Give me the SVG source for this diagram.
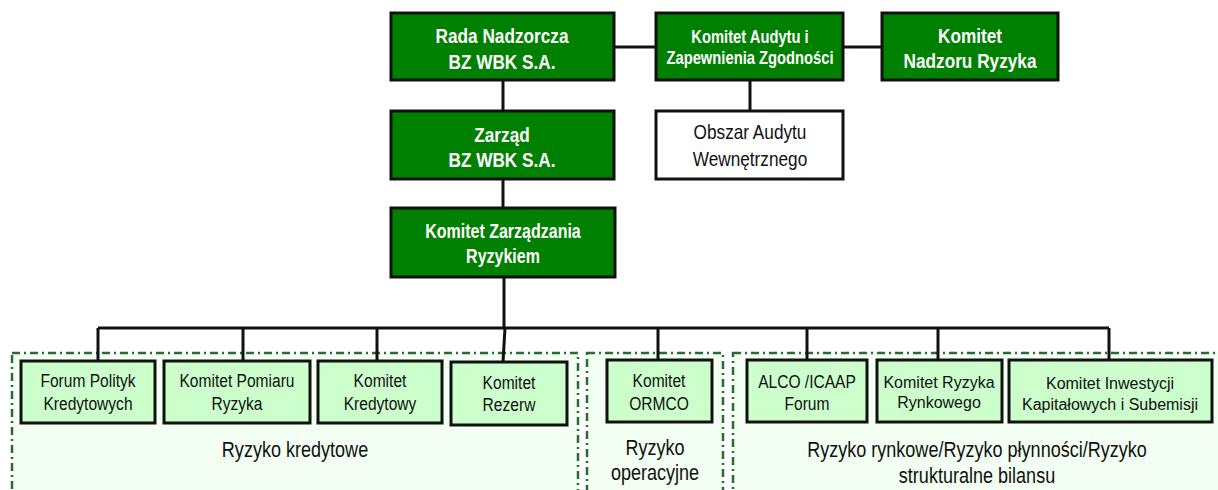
<svg xmlns="http://www.w3.org/2000/svg" width="1218" height="490" viewBox="0 0 1218 490">
<style>
.g rect{fill:#008000;stroke:#111;stroke-width:3}
.w rect{fill:#fff;stroke:#111;stroke-width:3}
.l rect{fill:#ccffcc;stroke:#111;stroke-width:3}
.reg{fill:#f2fff2;stroke:#2a6b35;stroke-width:2.5;stroke-dasharray:8 4 2 4}
text{font-family:"Liberation Sans",Arial,sans-serif;text-anchor:middle}
.g text{fill:#fff;font-weight:bold;font-size:21px}
.w text,.l text{fill:#111;font-size:19px}
.l text.a{font-size:16px}
.lab{fill:#111;font-size:22px}
.c{stroke:#111;stroke-width:3;fill:none}
</style>
<g id="regions">
<rect class="reg" x="12" y="353" width="566" height="150"/>
<rect class="reg" x="587" y="353" width="136" height="150"/>
<rect class="reg" x="733" y="353" width="500" height="150"/>
</g>
<g id="connectors">
<path class="c" d="M615 47H655M844 47H881M503 81V110M750 78V110M503 180V207M504 278V328M98 328H1109M98 328V360M243 328V360M377 328V360M505 328L503 362M658 328V360M807 328V360M938 328V360M1109 328V360"/>
</g>
<g id="rada" class="g"><rect x="391" y="13" width="223" height="67"/><text transform="translate(502 43) scale(0.82 1)">Rada Nadzorcza</text><text transform="translate(502 69) scale(0.82 1)">BZ WBK S.A.</text></g>
<g id="audyt" class="g"><rect x="656" y="13" width="187" height="67"/><text transform="translate(750 43) scale(0.82 1)" style="font-size:18px">Komitet Audytu i</text><text transform="translate(750 64) scale(0.82 1)" style="font-size:18px">Zapewnienia Zgodności</text></g>
<g id="nadzor" class="g"><rect x="882" y="13" width="176" height="67"/><text transform="translate(970 43) scale(0.82 1)">Komitet</text><text transform="translate(970 68) scale(0.82 1)">Nadzoru Ryzyka</text></g>
<g id="obszar" class="w"><rect x="656" y="111" width="187" height="68"/><text transform="translate(750 139) scale(0.82 1)" style="font-size:21px">Obszar Audytu</text><text transform="translate(750 166) scale(0.82 1)" style="font-size:21px">Wewnętrznego</text></g>
<g id="zarzad" class="g"><rect x="391" y="111" width="223" height="68"/><text transform="translate(502 142) scale(0.82 1)">Zarząd</text><text transform="translate(502 167) scale(0.82 1)">BZ WBK S.A.</text></g>
<g id="kzr" class="g"><rect x="391" y="208" width="224" height="69"/><text transform="translate(503 238) scale(0.82 1)" style="font-size:19.5px">Komitet Zarządzania</text><text transform="translate(503 263) scale(0.82 1)" style="font-size:19.5px">Ryzykiem</text></g>
<g id="forum" class="l"><rect x="21" y="361" width="134" height="62"/><text transform="translate(88 387) scale(0.82 1)">Forum Polityk</text><text transform="translate(88 410) scale(0.82 1)">Kredytowych</text></g>
<g id="pomiar" class="l"><rect x="164" y="361" width="146" height="62"/><text transform="translate(237 387) scale(0.82 1)">Komitet Pomiaru</text><text transform="translate(237 410) scale(0.82 1)">Ryzyka</text></g>
<g id="kredytowy" class="l"><rect x="318" y="361" width="124" height="62"/><text transform="translate(380 387) scale(0.82 1)">Komitet</text><text transform="translate(380 410) scale(0.82 1)">Kredytowy</text></g>
<g id="rezerw" class="l"><rect x="451" y="362" width="116" height="63"/><text transform="translate(509 389) scale(0.82 1)">Komitet</text><text transform="translate(509 411) scale(0.82 1)">Rezerw</text></g>
<g id="ormco" class="l"><rect x="607" y="360" width="105" height="62"/><text transform="translate(659 387) scale(0.82 1)">Komitet</text><text transform="translate(659 410) scale(0.82 1)">ORMCO</text></g>
<g id="alco" class="l"><rect x="747" y="360" width="120" height="62"/><text transform="translate(807 388) scale(0.82 1)">ALCO /ICAAP</text><text transform="translate(807 410) scale(0.82 1)">Forum</text></g>
<g id="rynkowy" class="l"><rect x="877" y="360" width="125" height="62"/><text class="a" x="939" y="388">Komitet Ryzyka</text><text class="a" x="939" y="408">Rynkowego</text></g>
<g id="inwest" class="l"><rect x="1009" y="360" width="203" height="62"/><text class="a" x="1110" y="389">Komitet Inwestycji</text><text class="a" x="1110" y="410">Kapitałowych i Subemisji</text></g>
<g id="labels">
<text class="lab" transform="translate(295 457) scale(0.82 1)">Ryzyko kredytowe</text>
<text class="lab" transform="translate(655 455) scale(0.82 1)">Ryzyko</text>
<text class="lab" transform="translate(655 480) scale(0.82 1)">operacyjne</text>
<text class="lab" transform="translate(977 457) scale(0.82 1)">Ryzyko rynkowe/Ryzyko płynności/Ryzyko</text>
<text class="lab" transform="translate(977 483) scale(0.82 1)">strukturalne bilansu</text>
</g>
</svg>
